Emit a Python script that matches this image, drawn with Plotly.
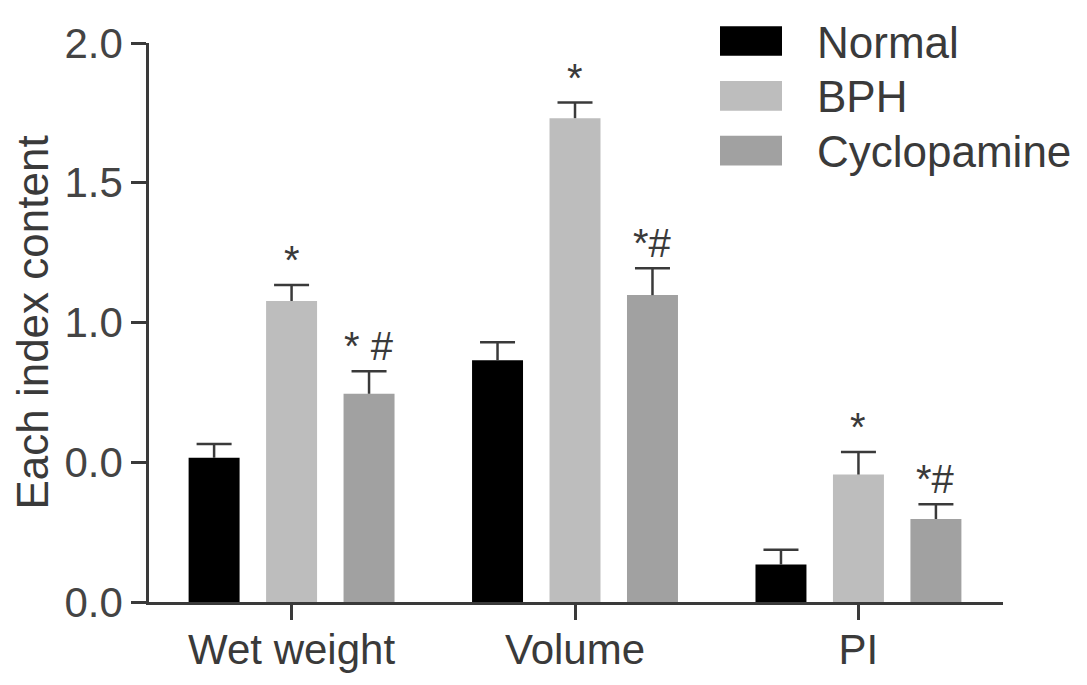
import plotly.graph_objects as go

categories = ["Wet weight", "Volume", "PI"]
groups = ["Normal", "BPH", "Cyclopamine"]
normal = [0.516, 0.865, 0.134]
bph = [1.077, 1.731, 0.456]
cyclopamine = [0.745, 1.098, 0.297]
normal_err = [0.049, 0.064, 0.053]
bph_err = [0.057, 0.056, 0.081]
cyclopamine_err = [0.081, 0.096, 0.053]
bph_marks = ["*", "*", "*"]
cyclopamine_marks = ["* #", "*#", "*#"]
tick_vals = [0, 0.5, 1.0, 1.5, 2.0]
tick_text = ["0.0", "0.0", "1.0", "1.5", "2.0"]

colors = ["#000000", "#bdbdbd", "#a1a1a1"]
ink = "#3a3a3a"
font = "Liberation Sans, Arial, sans-serif"

# page has an 8px body margin, so the figure is a little smaller than the window
W, H = 1079, 677
L, R, T, B = 141, 84, 29, 82
OFF = 8

def px(x):
    return (x - OFF - L) / (W - L - R)

def py(y):
    return (H - B - (y - OFF)) / (H - T - B)

fig = go.Figure()
series = list(zip(groups, [normal, bph, cyclopamine],
                  [normal_err, bph_err, cyclopamine_err], colors))
for name, vals, errs, col in series:
    # stem only; the cap is drawn by the marker trace below
    fig.add_bar(
        name=name, x=categories, y=vals, marker_color=col, marker_line_width=0,
        error_y=dict(type="data", symmetric=False, array=errs,
                     arrayminus=[0] * len(errs), color=ink, thickness=2.5, width=0),
        showlegend=False,
    )
for name, vals, errs, col in series:
    fig.add_scatter(
        name=name, x=categories, y=[v + e for v, e in zip(vals, errs)], mode="markers",
        marker=dict(symbol="line-ew", size=25, line=dict(color=ink, width=2.5)),
        showlegend=False, hoverinfo="skip",
    )

# significance marks above the error bars
for i, cat in enumerate(categories):
    for marks, vals, errs, shift in [(bph_marks, bph, bph_err, 0),
                                     (cyclopamine_marks, cyclopamine, cyclopamine_err, 77.5)]:
        fig.add_annotation(x=cat, y=vals[i] + errs[i], text=marks[i], showarrow=False,
                           xshift=shift, yanchor="bottom", yshift=1,
                           font=dict(size=40, color=ink, family=font))

# legend drawn by hand so the swatches match the wide boxes
for k, (name, col) in enumerate(zip(groups, colors)):
    top = 20 + k * 55.5
    fig.add_shape(type="rect", xref="paper", yref="paper",
                  x0=px(720), x1=px(782), y0=py(top + 30), y1=py(top),
                  fillcolor=col, line_width=0)
    fig.add_annotation(xref="paper", yref="paper", x=px(815), y=py(top + 16),
                       text=name, showarrow=False, xanchor="left", yanchor="middle",
                       font=dict(size=44, color=ink, family=font))

fig.update_layout(
    width=W, height=H,
    margin=dict(l=L, r=R, t=T, b=B),
    paper_bgcolor="white", plot_bgcolor="white",
    barmode="group", bargap=0.18, bargroupgap=0.342,
    scattermode="group", scattergap=0.18,
    font=dict(family=font, size=40, color=ink),
    xaxis=dict(range=[-0.503, 2.51], showline=True, linecolor=ink, linewidth=2.5,
               ticks="outside", ticklen=15, tickwidth=2.5, tickcolor=ink,
               ticklabelstandoff=-6,
               tickfont=dict(size=42, color=ink), showgrid=False, zeroline=False),
    yaxis=dict(range=[0, 2.0], tickvals=tick_vals, ticktext=tick_text,
               showline=True, linecolor=ink, linewidth=2.5,
               ticks="outside", ticklen=15, tickwidth=2.5, tickcolor=ink,
               tickfont=dict(size=42, color="#444444"), showgrid=False, zeroline=False,
               title=dict(text="Each index content", font=dict(size=44, color=ink), standoff=8)),
)

fig.write_html("out.html")
